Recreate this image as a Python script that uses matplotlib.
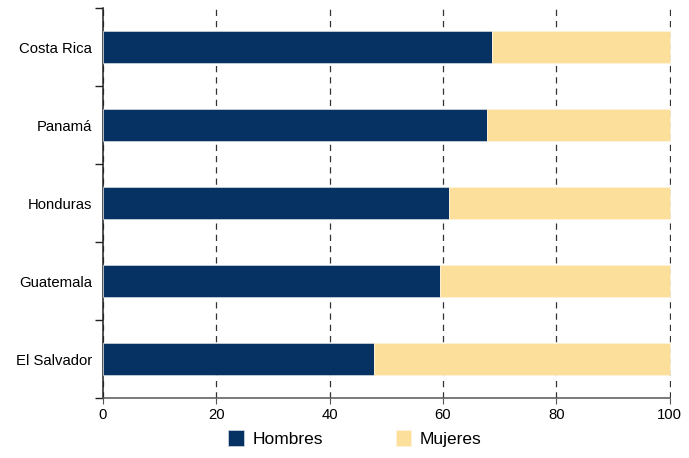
import matplotlib
matplotlib.use("Agg")
import matplotlib.pyplot as plt
import numpy as np

plt.rcParams['font.family'] = ['Liberation Sans', 'DejaVu Sans']

countries = ["Costa Rica", "Panamá", "Honduras", "Guatemala", "El Salvador"]
hombres = [68.6, 67.8, 61.0, 59.4, 47.8]
mujeres = [100 - h for h in hombres]
xticks = [0, 20, 40, 60, 80, 100]

c_h = "#063263"
c_m = "#FDDF9C"

fig = plt.figure(figsize=(6.89, 4.58), dpi=100)
ax = fig.add_axes([0.1495, 0.131, 0.8250, 0.8515])

y = np.arange(len(countries))
ax.barh(y, hombres, height=0.41, color=c_h, edgecolor="#c8d0da", linewidth=0.6, label="Hombres", zorder=3)
ax.barh(y, mujeres, left=hombres, height=0.41, color=c_m, edgecolor="#fff3d8", linewidth=0.6, label="Mujeres", zorder=3)

# small margin on the right so the gridline at the last tick stays inside the axes
ax.set_xlim(xticks[0], xticks[-1] * 1.003)
ax.set_ylim(len(countries) - 0.5, -0.5)
ax.set_xticks(xticks)
ax.set_xticklabels([str(v) for v in xticks], fontsize=10.7)

ax.set_yticks(y)
ax.set_yticklabels(countries, fontsize=10.7)
ax.tick_params(axis='y', which='major', length=0, pad=8)
ax.set_yticks(np.arange(-0.5, len(countries) + 0.5, 1), minor=True)
ax.tick_params(axis='y', which='minor', length=6, width=1, color="#222222", direction='out')
ax.tick_params(axis='x', length=4, width=0.8, color="#555555", pad=3)

ax.grid(axis='x', zorder=0, linestyle=(0, (5, 4)), color="#333333", linewidth=0.9)

ax.spines['top'].set_visible(False)
ax.spines['right'].set_visible(False)
ax.spines['left'].set_color("#222222")
ax.spines['bottom'].set_color("#555555")
ax.spines['left'].set_linewidth(1.1)
ax.spines['bottom'].set_linewidth(1.1)
ax.spines['bottom'].set_bounds(xticks[0], xticks[-1])

handles, labels = ax.get_legend_handles_labels()
leg = fig.legend(handles[:2], labels[:2], loc='lower center', bbox_to_anchor=(0.515, -0.01), ncol=2, frameon=False,
                 fontsize=12.5, handlelength=0.9, handleheight=1.1, columnspacing=4.2, handletextpad=0.5)

fig.savefig("out.png", dpi=100)
